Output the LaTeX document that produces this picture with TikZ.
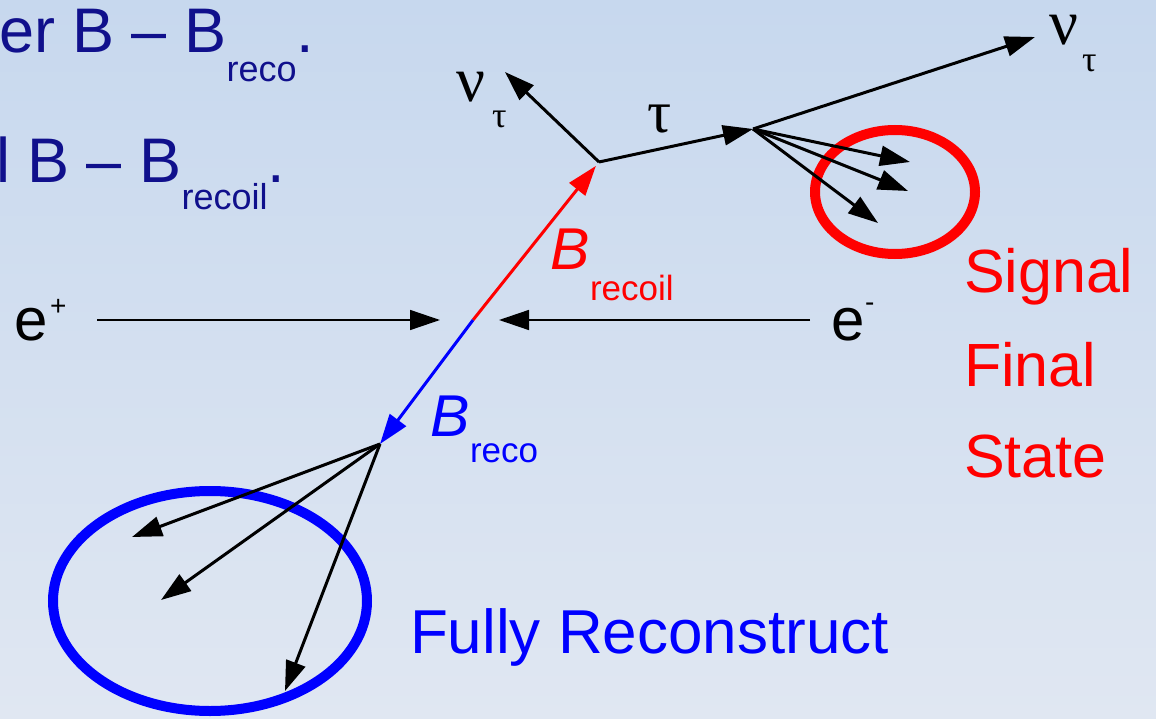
\documentclass[tikz,border=0pt]{standalone}
\usepackage{fontspec}
\setmainfont{Liberation Sans}
\newfontfamily\grk{Liberation Serif}
\usetikzlibrary{arrows.meta}
\definecolor{navy}{RGB}{16,16,140}
\definecolor{bgtop}{RGB}{199,216,238}
\definecolor{bgbot}{RGB}{224,231,242}
\definecolor{pblue}{RGB}{0,0,255}
\definecolor{pred}{RGB}{255,0,0}
\newcommand\fsz[1]{\fontsize{#1}{#1}\selectfont}
\tikzset{
  lbl/.style={anchor=base west, inner sep=0pt, outer sep=0pt},
  tip/.style={-{Triangle[length=30pt,width=20pt]}},
  track/.style={tip, line width=3pt},
  beam/.style={-{Triangle[length=30pt,width=20pt]}, line width=1.5pt},
  ring/.style={line width=10pt},
}
\begin{document}
\begin{tikzpicture}[x=1pt,y=-1pt]
\shade[top color=bgtop, bottom color=bgbot] (0,0) rectangle (1156,719);
\useasboundingbox (0,0) rectangle (1156,719);
\begin{scope}
\clip (0,0) rectangle (1156,719);
% top-left text
\node[lbl, text=navy] (t1) at (-1,53) {\fsz{63}er B -- B\raisebox{-29pt}{\fsz{36}reco}.};
\node[lbl, text=navy] (t2) at (-4,183) {\fsz{63}l B -- B\raisebox{-27pt}{\fsz{36}recoil}.};
% ellipses
\draw[ring, pred] (895,192) ellipse [x radius=80, y radius=62];
\draw[ring, pblue] (210,601) ellipse [x radius=157, y radius=110];
\end{scope}
% coordinates
\coordinate (col) at (473,320);
\coordinate (tv) at (599,162);
\coordinate (dv) at (753,129);
\coordinate (bv) at (380,444);
\coordinate (ep) at (97,320);
\coordinate (epT) at (440,320);
\coordinate (em) at (810,320);
\coordinate (emT) at (499,320);
\coordinate (nu1) at (505,72);
\coordinate (nu2) at (1035,37);
\coordinate (s1) at (910,162);
\coordinate (s2) at (908,191);
\coordinate (s3) at (878,223);
\coordinate (r1) at (132,537);
\coordinate (r2) at (161,600);
\coordinate (r3) at (285,691);
% beams
\draw[beam] (ep) -- (epT);
\draw[beam] (em) -- (emT);
% B mesons
\draw[track, pred, shorten >=5pt] (col) -- (tv);
\draw[track, pblue] (col) -- (bv);
% tau system
\draw[track] (tv) -- (nu1);
\draw[track] (tv) -- (dv);
\draw[track] (dv) -- (nu2);
\draw[track] (dv) -- (s1);
\draw[track] (dv) -- (s2);
\draw[track] (dv) -- (s3);
% B reco decay
\draw[track] (bv) -- (r1);
\draw[track] (bv) -- (r2);
\draw[track] (bv) -- (r3);
% labels
\node[lbl] (nuA) at (456,102) {\grk\fsz{64}ν};
\node[lbl] (nuAs) at (492,128) {\grk\fsz{36}τ};
\node[lbl] (nuB) at (1049,45) {\grk\fsz{64}ν};
\node[lbl] (nuBs) at (1082,72) {\grk\fsz{36}τ};
\node[lbl] (tau) at (647,133) {\grk\fsz{60}τ};
\node[lbl] (ePl) at (14,340) {\fsz{60}e};
\node[lbl] (ePs) at (50,315) {\fsz{28}+};
\node[lbl] (eMl) at (831,340) {\fsz{60}e};
\node[lbl] (eMs) at (865,312) {\fsz{28}-};
\node[lbl, text=pred] (Brc) at (550,270) {\fsz{59}\itshape B};
\node[lbl, text=pred] (Brcs) at (590,300) {\fsz{35}recoil};
\node[lbl, text=pblue] (Bro) at (430,436) {\fsz{59}\itshape B};
\node[lbl, text=pblue] (Bros) at (470,462) {\fsz{35}reco};
\node[lbl, text=pred] (sig1) at (964,293) {\fsz{61}Signal};
\node[lbl, text=pred] (sig2) at (964,386) {\fsz{61}Final};
\node[lbl, text=pred] (sig3) at (964,477) {\fsz{61}State};
\node[lbl, text=pblue] (full) at (410,653) {\fsz{62}Fully Reconstruct};
\end{tikzpicture}
\end{document}
